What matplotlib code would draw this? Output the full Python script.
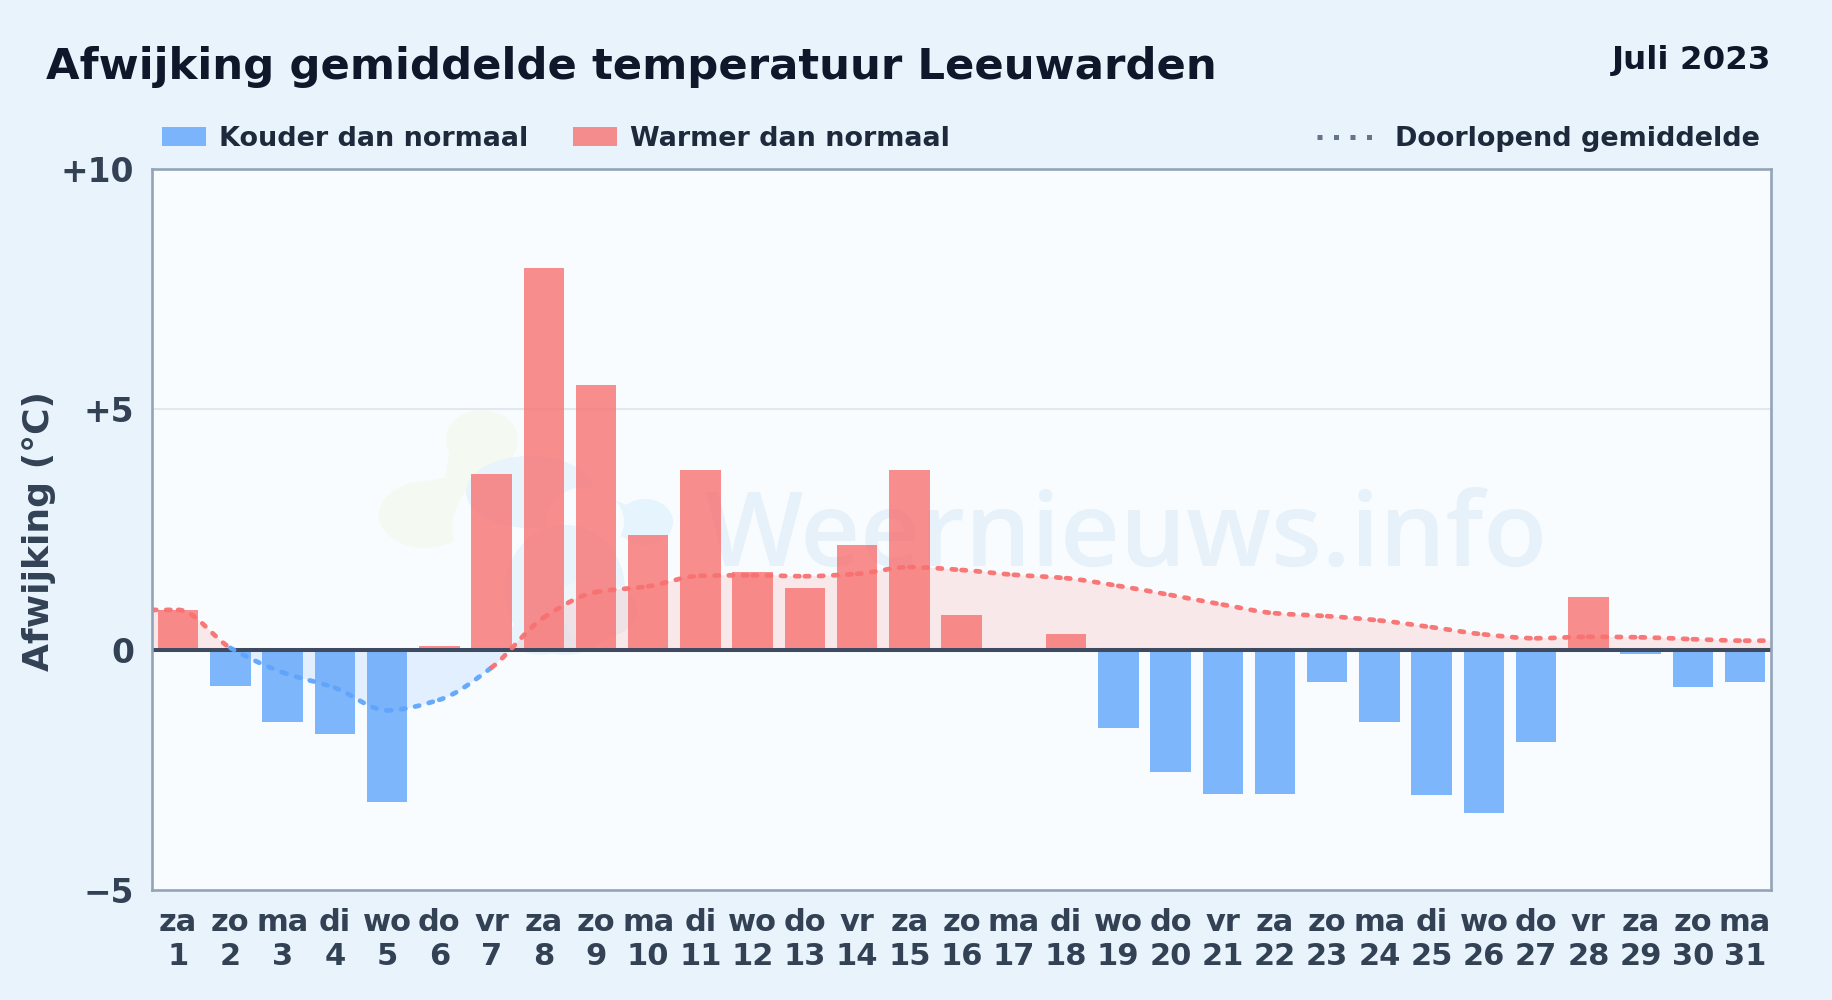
# %% import
import matplotlib
matplotlib.use('Agg')
import matplotlib.pyplot as plt
from matplotlib.lines import Line2D
from matplotlib.patches import Ellipse, PathPatch, Patch, Polygon, Rectangle
from matplotlib.path import Path
from matplotlib.transforms import Affine2D

# %% data
days = list(range(1, 32))
weekdays = ['za', 'zo', 'ma', 'di', 'wo', 'do', 'vr'] * 4 + ['za', 'zo', 'ma']
deviation = [0.83, -0.75, -1.50, -1.75, -3.16, 0.07, 3.66, 7.95, 5.51, 2.39, 3.74,
             1.62, 1.29, 2.18, 3.74, 0.73, 0.0, 0.33, -1.62, -2.55, -3.0, -3.0,
             -0.67, -1.50, -3.02, -3.40, -1.92, 1.10, -0.08, -0.77, -0.67]
running_mean = [0.83, 0.04, -0.47, -0.79, -1.26, -1.04, -0.37, 0.67, 1.20, 1.32, 1.54,
                1.55, 1.53, 1.58, 1.72, 1.66, 1.56, 1.49, 1.33, 1.14, 0.94, 0.76,
                0.70, 0.61, 0.47, 0.32, 0.24, 0.27, 0.26, 0.22, 0.19]
y_ticks = [-5, 0, 5, 10]
y_tick_labels = ['\u22125', '0', '+5', '+10']

RED = '#f87171'
BLUE = '#60a5fa'
BG = '#e9f3fc'
PLOT_BG = '#f8fcff'
DARK = '#334155'

W, H = 1832, 1000
fig = plt.figure(figsize=(W / 100, H / 100), dpi=100, facecolor=BG)
plt.rcParams['font.family'] = 'DejaVu Sans'
ax = fig.add_axes([152 / W, 1 - 890.2 / H, (1771.2 - 152) / W, (890.2 - 169) / H], facecolor=PLOT_BG)
ax.set_xlim(0.5, 31.5)
ax.set_ylim(-5, 10)


# pixel coords (y down) for the faint background logo
px = Affine2D().scale(1, -1).translate(0, H)


def blob(cx, cy, w, h, color):
    ax.add_patch(Ellipse((cx, cy), w, h, facecolor=color, edgecolor='none', transform=px, zorder=0.5))


# %% watermark
GREEN_L = '#f4faf2'
BLUE_L = '#e8f3fc'
blob(482, 440, 72, 60, GREEN_L)
blob(425, 515, 92, 66, GREEN_L)
ax.add_patch(Polygon([(450, 450), (512, 455), (530, 575), (470, 550), (405, 484), (445, 478)], closed=True,
                     facecolor=GREEN_L, edgecolor='none', transform=px, zorder=0.5))
blob(525, 528, 145, 128, PLOT_BG)
blob(530, 492, 128, 72, BLUE_L)
blob(645, 522, 56, 46, '#e6f4fe')
blob(590, 520, 95, 46, '#e6f4fe')
blob(585, 522, 78, 70, PLOT_BG)
blob(565, 590, 120, 130, BLUE_L)
blob(592, 610, 90, 60, '#eef5fb')
blob(540, 635, 60, 40, BLUE_L)
ax.text(704, 1000 - 566, 'Weernieuws.info', fontsize=75, fontfamily='Open Sans', fontweight=600,
        color='#e6f1fa', transform=None, ha='left', va='baseline', zorder=0.6)

# %% grid and bars
ax.axhline(5, color='#e2e8f0', linewidth=1.5, zorder=1)
colors = [RED if v >= 0 else BLUE for v in deviation]
ax.bar(days, deviation, width=0.775, color=colors, alpha=0.8, linewidth=0, zorder=3)
ax.axhline(0, color='#3d4a5f', linewidth=2.9, zorder=4)

# %% smooth running mean, one curve piece per day
xs = [0.5] + days + [31.5]
ys = [running_mean[0]] + running_mean + [running_mean[-1]]
slopes = [(ys[i + 1] - ys[i]) / (xs[i + 1] - xs[i]) for i in range(len(xs) - 1)]
tangents = [0.0]
for a, b in zip(slopes[:-1], slopes[1:]):
    tangents.append(0.0 if a * b <= 0 else 2 * a * b / (a + b))
tangents.append(0.0)

verts = [(xs[0], ys[0])]
pieces = []
for i in range(len(xs) - 1):
    dx = xs[i + 1] - xs[i]
    c1 = (xs[i] + dx / 3, ys[i] + tangents[i] * dx / 3)
    c2 = (xs[i + 1] - dx / 3, ys[i + 1] - tangents[i + 1] * dx / 3)
    end = (xs[i + 1], ys[i + 1])
    verts += [c1, c2, end]
    pieces.append(([(xs[i], ys[i]), c1, c2, end], RED if ys[i + 1] >= 0 else BLUE))

codes = [Path.MOVETO] + [Path.CURVE4] * (len(verts) - 1)
area = Path(verts + [(31.5, 0), (0.5, 0), verts[0]], codes + [Path.LINETO, Path.LINETO, Path.CLOSEPOLY])
for color, y0, y1 in [(RED, 0, 10), (BLUE, -5, 0)]:
    fill = PathPatch(area, facecolor=color, edgecolor='none', alpha=0.14, zorder=2)
    ax.add_patch(fill)
    fill.set_clip_path(Rectangle((0.5, y0), 31, y1 - y0, transform=ax.transData))

for piece, color in pieces:
    line = PathPatch(Path(piece, [Path.MOVETO, Path.CURVE4, Path.CURVE4, Path.CURVE4]), facecolor='none',
                     edgecolor=color, linewidth=3.4, linestyle=(0, (0.9, 2.1)), capstyle='round',
                     alpha=0.95, zorder=5)
    ax.add_patch(line)

# %% axes
for s in ax.spines.values():
    s.set_color('#94a3b8')
    s.set_linewidth(1.9)
    s.set_zorder(6)
ax.set_yticks(y_ticks)
ax.set_yticklabels(y_tick_labels, fontsize=23.7, fontweight='bold', color=DARK)
ax.set_xticks(days)
ax.set_xticklabels(['%s\n%d' % (w, d) for w, d in zip(weekdays, days)], fontsize=22, fontweight='bold',
                   color=DARK, linespacing=1.22)
ax.tick_params(axis='both', length=0)
ax.tick_params(axis='x', pad=12.5)
ax.tick_params(axis='y', pad=13)
fig.text(39.5 / W, 1 - 531 / H, 'Afwijking (°C)', rotation=90, ha='center', va='center',
         fontsize=26, fontweight='bold', color=DARK)

# %% titles
fig.text(46 / W, 1 - 79 / H, 'Afwijking gemiddelde temperatuur Leeuwarden', fontsize=31.2, fontweight='bold',
         color='#0f172a', ha='left', va='baseline')
fig.text(1771 / W, 1 - 69 / H, 'Juli 2023', fontsize=23.4, fontweight='bold', color='#0f172a',
         ha='right', va='baseline')

# %% legends
left_handles = [Patch(facecolor=BLUE, alpha=0.8, edgecolor='none', label='Kouder dan normaal'),
                Patch(facecolor=RED, alpha=0.8, edgecolor='none', label='Warmer dan normaal')]
leg = fig.legend(handles=left_handles, loc='center left', bbox_to_anchor=(162 / W, 1 - 139 / H), ncol=2,
                 frameon=False, borderpad=0, borderaxespad=0, handlelength=1.63,
                 handleheight=0.70, handletextpad=0.49, columnspacing=1.65,
                 prop={'weight': 'bold', 'size': 19.45})
right_handles = [Line2D([0], [0], color='#64748b', linewidth=3.6, linestyle=(0, (1.0, 2.3)),
                        dash_capstyle='butt', label='Doorlopend gemiddelde')]
leg2 = fig.legend(handles=right_handles, loc='center right', bbox_to_anchor=(1760 / W, 1 - 139 / H),
                  frameon=False, borderpad=0, borderaxespad=0, handlelength=2.04, handletextpad=0.85,
                  prop={'weight': 'bold', 'size': 19.45})
for t in leg.get_texts() + leg2.get_texts():
    t.set_color('#1e293b')

fig.savefig('out.png', dpi=100, facecolor=BG)
